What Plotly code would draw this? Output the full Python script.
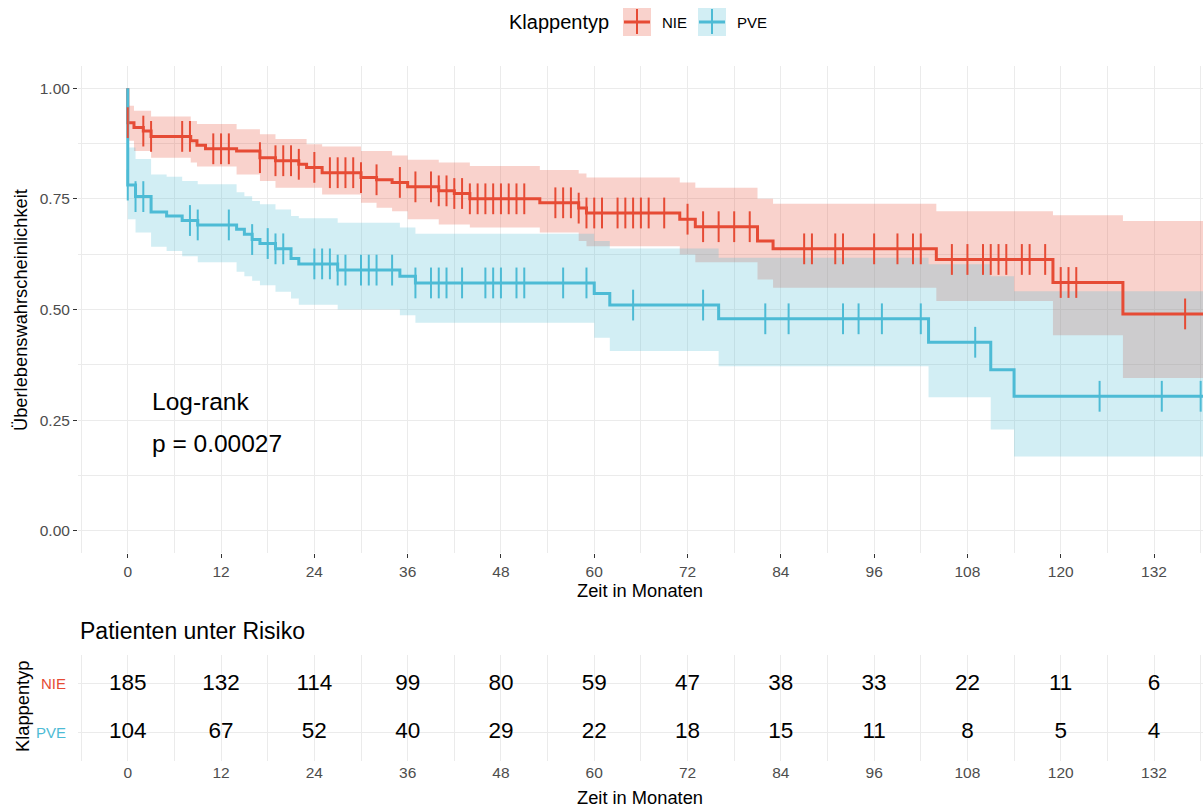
import numpy as np
import plotly.graph_objects as go

# ---------------- Kaplan-Meier estimates (months) ----------------
# NIE
nie_time = [0, 0.8, 2, 3, 8.1, 8.9, 10, 14, 17, 19, 22, 23, 25, 30, 32, 34, 36, 40, 42,
            44, 53, 58, 59, 71, 73, 81, 83, 104, 119, 128]
nie_surv = [0.922, 0.911, 0.903, 0.891, 0.881, 0.871, 0.863, 0.858, 0.843, 0.836, 0.828,
            0.821, 0.809, 0.798, 0.793, 0.787, 0.777, 0.768, 0.762, 0.750, 0.741, 0.729,
            0.718, 0.704, 0.687, 0.655, 0.637, 0.613, 0.561, 0.490]
nie_upper = [0.960, 0.949, 0.949, 0.936, 0.926, 0.919, 0.919, 0.907, 0.896, 0.885, 0.885,
             0.873, 0.868, 0.858, 0.858, 0.848, 0.838, 0.832, 0.832, 0.824, 0.815, 0.807,
             0.798, 0.787, 0.775, 0.750, 0.739, 0.722, 0.713, 0.700]
nie_lower = [0.881, 0.858, 0.858, 0.843, 0.832, 0.823, 0.823, 0.805, 0.790, 0.775, 0.775,
             0.775, 0.760, 0.741, 0.730, 0.722, 0.704, 0.692, 0.692, 0.685, 0.674, 0.655,
             0.643, 0.624, 0.607, 0.568, 0.549, 0.519, 0.442, 0.345]
nie_censor = [0, 2, 3, 7, 8, 11, 12, 13, 17, 19, 20, 21, 22, 24, 26, 27, 28, 29, 30, 32, 35,
              37, 39, 40, 41, 42, 43, 44, 45, 46, 47, 48, 49, 50, 51, 55, 56, 57, 58, 59, 60,
              61, 63, 64, 65, 66, 67, 69, 72, 74, 76, 78, 80, 87, 88, 91, 92, 96, 99, 101,
              102, 106, 108, 110, 111, 112, 113, 115, 116, 118, 120, 121, 122, 136]
nie_end = 140

# PVE
pve_time = [0, 1, 3, 5, 7, 9, 14, 15, 16, 17, 19, 21, 22, 27, 35, 37, 60, 62, 76, 103,
            111, 114]
pve_surv = [0.781, 0.755, 0.720, 0.711, 0.701, 0.691, 0.681, 0.670, 0.658, 0.649, 0.637,
            0.615, 0.603, 0.589, 0.575, 0.560, 0.536, 0.510, 0.479, 0.426, 0.364, 0.304]
pve_upper = [0.866, 0.840, 0.805, 0.800, 0.790, 0.783, 0.765, 0.756, 0.745, 0.738, 0.726,
             0.711, 0.706, 0.696, 0.685, 0.671, 0.655, 0.638, 0.617, 0.602, 0.575, 0.541]
pve_lower = [0.704, 0.674, 0.642, 0.632, 0.620, 0.607, 0.585, 0.575, 0.565, 0.555, 0.540,
             0.525, 0.511, 0.500, 0.487, 0.470, 0.436, 0.406, 0.372, 0.302, 0.229, 0.168]
pve_censor = [0, 1, 2, 8, 9, 13, 16, 18, 19, 20, 24, 25, 26, 27, 28, 30, 31, 32, 34, 37, 39,
              40, 41, 43, 46, 47, 48, 50, 51, 56, 59, 65, 74, 82, 85, 92, 94, 97, 102, 109,
              125, 133, 138]
pve_end = 140

# ---------------- Number at risk ----------------
risk_times = [0, 12, 24, 36, 48, 60, 72, 84, 96, 108, 120, 132]
nie_at_risk = [185, 132, 114, 99, 80, 59, 47, 38, 33, 22, 11, 6]
pve_at_risk = [104, 67, 52, 40, 29, 22, 18, 15, 11, 8, 5, 4]

y_ticks = [0.0, 0.25, 0.5, 0.75, 1.0]
group_names = ["NIE", "PVE"]
logrank_p = "0.00027"

COL_NIE = "#E64B35"
COL_PVE = "#4DBBD5"
FILL_NIE = "rgba(230,75,53,0.25)"
FILL_PVE = "rgba(77,187,213,0.25)"
GRID = "#EBEBEB"
TICKTXT = "#4D4D4D"
FONT = "Liberation Sans, Arial, sans-serif"

W, H = 1203, 807


def px_x(p):
    return p / W


def px_y(p):
    return 1 - p / H


def surv_at(times, surv, t):
    idx = np.searchsorted(np.asarray(times), np.asarray(t), side="right") - 1
    return np.asarray(surv)[np.clip(idx, 0, None)]


groups = [
    (nie_time, nie_surv, nie_upper, nie_lower, nie_censor, nie_end, COL_NIE, FILL_NIE),
    (pve_time, pve_surv, pve_upper, pve_lower, pve_censor, pve_end, COL_PVE, FILL_PVE),
]

fig = go.Figure()

# confidence bands
for times, surv, up, lo, cens, end, col, fill in groups:
    bx = list(times) + [end]
    fig.add_trace(go.Scatter(x=bx, y=list(lo) + [lo[-1]], mode="lines",
                             line=dict(width=0, shape="hv"), hoverinfo="skip",
                             showlegend=False))
    fig.add_trace(go.Scatter(x=bx, y=list(up) + [up[-1]], mode="lines",
                             line=dict(width=0, shape="hv"), fill="tonexty",
                             fillcolor=fill, hoverinfo="skip", showlegend=False))

# survival curves
for times, surv, up, lo, cens, end, col, fill in groups:
    fig.add_trace(go.Scatter(x=[0] + list(times) + [end], y=[1.0] + list(surv) + [surv[-1]],
                             mode="lines", line=dict(color=col, width=3, shape="hv"),
                             showlegend=False))

# censoring marks
for times, surv, up, lo, cens, end, col, fill in groups:
    fig.add_trace(go.Scatter(x=cens, y=surv_at(times, surv, cens), mode="markers",
                             marker=dict(symbol="line-ns", size=22, color=col,
                                         line=dict(color=col, width=2)),
                             showlegend=False))

# risk table numbers
for yv, counts in [(2, nie_at_risk), (1, pve_at_risk)]:
    fig.add_trace(go.Scatter(x=risk_times, y=[yv] * len(risk_times), mode="text",
                             text=[str(c) for c in counts],
                             textfont=dict(family=FONT, size=22.5, color="black"),
                             xaxis="x2", yaxis="y2", showlegend=False, hoverinfo="skip"))

x_range = [-6.4, 138.3]
axis_common = dict(showline=False, zeroline=False, gridcolor=GRID, gridwidth=1.4,
                   tickfont=dict(family=FONT, size=15.5, color=TICKTXT))

fig.update_layout(
    width=W, height=H,
    margin=dict(l=0, r=0, t=0, b=0),
    paper_bgcolor="white", plot_bgcolor="white",
    font=dict(family=FONT),
    showlegend=False,
    xaxis=dict(domain=[px_x(78), 1], range=x_range, tickmode="linear", tick0=0, dtick=12,
               ticks="outside", ticklen=4, tickcolor="#333333", anchor="y",
               minor=dict(tick0=0, dtick=6, showgrid=True, gridcolor=GRID, gridwidth=0.9),
               **axis_common),
    yaxis=dict(domain=[px_y(553), px_y(66)], range=[-0.05, 1.05], tickmode="array",
               tickvals=y_ticks, ticktext=[f"{v:.2f}" for v in y_ticks],
               ticks="outside", ticklen=4, tickcolor="#333333", anchor="x",
               minor=dict(tick0=0, dtick=0.125, showgrid=True, gridcolor=GRID, gridwidth=0.9),
               **axis_common),
    xaxis2=dict(domain=[px_x(78), 1], range=x_range, tickmode="linear", tick0=0, dtick=12,
                ticks="", anchor="y2",
                minor=dict(tick0=0, dtick=6, showgrid=True, gridcolor=GRID, gridwidth=0.9),
                **axis_common),
    yaxis2=dict(domain=[px_y(761), px_y(655)], range=[0.4, 2.6], tickmode="array",
                tickvals=[1, 2], showticklabels=False, ticks="", anchor="x2",
                **axis_common),
)

ann = []
# axis titles
ann.append(dict(text="Überlebenswahrscheinlichkeit", x=px_x(20), y=px_y(310), textangle=-90,
                font=dict(size=18.3, color="black")))
ann.append(dict(text="Zeit in Monaten", x=px_x(640), y=px_y(590),
                font=dict(size=18.3, color="black")))
ann.append(dict(text="Zeit in Monaten", x=px_x(640), y=px_y(797),
                font=dict(size=18.3, color="black")))
ann.append(dict(text="Klappentyp", x=px_x(22), y=px_y(707), textangle=-90,
                font=dict(size=18.3, color="black")))
ann.append(dict(text="Patienten unter Risiko", x=px_x(78), y=px_y(631), xanchor="left",
                font=dict(size=23, color="black")))
# risk table group labels
ann.append(dict(text=group_names[0], x=px_x(68), y=2, yref="y2", xanchor="right",
                font=dict(size=15, color=COL_NIE)))
ann.append(dict(text=group_names[1], x=px_x(68), y=1, yref="y2", xanchor="right",
                font=dict(size=15, color=COL_PVE)))
# log-rank test
ann.append(dict(text="Log-rank", x=2.9, y=0.292, xref="x", yref="y", xanchor="left",
                font=dict(size=24.5, color="black")))
ann.append(dict(text=f"p = {logrank_p}", x=2.9, y=0.197, xref="x", yref="y", xanchor="left",
                font=dict(size=24.5, color="black")))
# legend
ann.append(dict(text="Klappentyp", x=px_x(611), y=px_y(22), xanchor="right",
                font=dict(size=20, color="black")))
ann.append(dict(text=group_names[0], x=px_x(660), y=px_y(22), xanchor="left",
                font=dict(size=15, color="black")))
ann.append(dict(text=group_names[1], x=px_x(735), y=px_y(22), xanchor="left",
                font=dict(size=15, color="black")))

for a in ann:
    a.setdefault("xref", "paper")
    a.setdefault("yref", "paper")
    a.setdefault("xanchor", "center")
    a.setdefault("yanchor", "middle")
    a["showarrow"] = False
    a["font"]["family"] = FONT
fig.update_layout(annotations=ann)

# legend keys
shapes = []
for x0, col, fill in [(623, COL_NIE, FILL_NIE), (698, COL_PVE, FILL_PVE)]:
    shapes.append(dict(type="rect", xref="paper", yref="paper", x0=px_x(x0), x1=px_x(x0 + 28),
                       y0=px_y(36), y1=px_y(8), fillcolor=fill, line=dict(width=0)))
    shapes.append(dict(type="line", xref="paper", yref="paper", x0=px_x(x0 + 1),
                       x1=px_x(x0 + 27), y0=px_y(22), y1=px_y(22),
                       line=dict(color=col, width=3)))
    shapes.append(dict(type="line", xref="paper", yref="paper", x0=px_x(x0 + 14),
                       x1=px_x(x0 + 14), y0=px_y(34), y1=px_y(9),
                       line=dict(color=col, width=2)))
fig.update_layout(shapes=shapes)

fig.write_html("out.html")
